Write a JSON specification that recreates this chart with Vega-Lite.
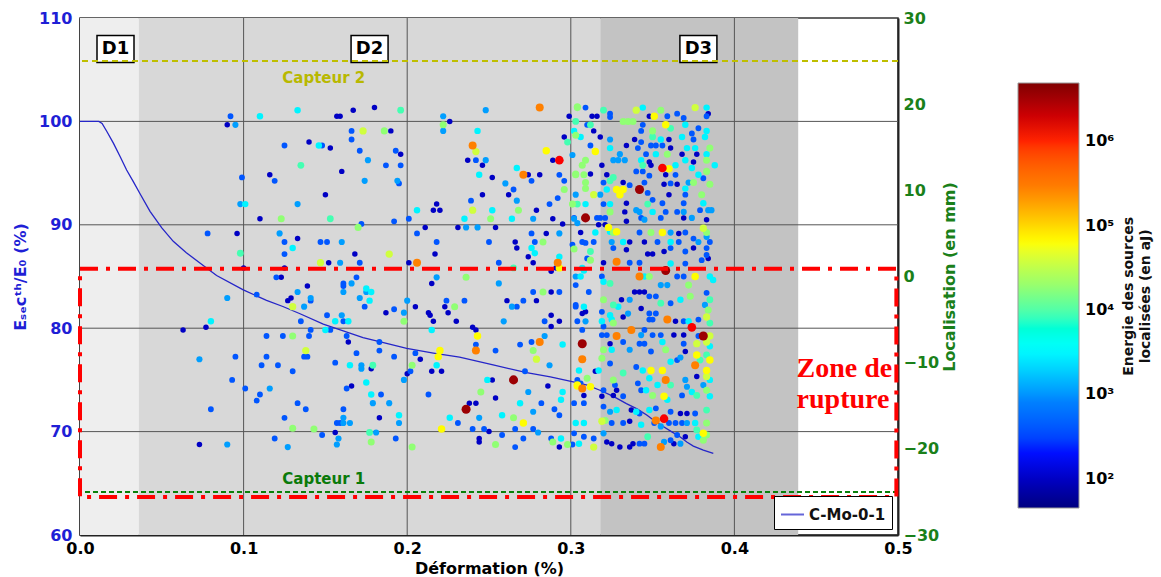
{
"$schema":"https://vega.github.io/schema/vega-lite/v6.json",
"width":818,"height":517,
"autosize":{"type":"none"},
"padding":{"left":80,"top":18,"right":263,"bottom":42},
"background":"white",
"config":{
 "font":"DejaVu Sans",
 "view":{"stroke":"#333333","strokeWidth":1.5},
 "axis":{"labelFont":"DejaVu Sans","labelFontWeight":"bold","labelFontSize":16,"titleFont":"DejaVu Sans","titleFontWeight":"bold","titleFontSize":16,"grid":false,"ticks":false,"domainColor":"#222222","domainWidth":2,"zindex":1,"labelFlush":false}
},
"datasets":{
 "zones":[{"d":0,"d2":0.036,"z":"D1"},{"d":0.036,"d2":0.318,"z":"D2"},{"d":0.318,"d2":0.439,"z":"D3"}],
 "gx":[{"d":0.1},{"d":0.2},{"d":0.3},{"d":0.4}],
 "gy":[{"E":70},{"E":80},{"E":90},{"E":100}],
 "mod":[{"d":0,"E":100},{"d":0.006,"E":100},{"d":0.0115,"E":100},{"d":0.0135,"E":99.8},{"d":0.0165,"E":99.0},{"d":0.0204,"E":97.9},{"d":0.0245,"E":96.6},{"d":0.0285,"E":95.3},{"d":0.0325,"E":94.2},{"d":0.0367,"E":93.0},{"d":0.0428,"E":91.3},{"d":0.05,"E":89.7},{"d":0.057,"E":88.4},{"d":0.065,"E":87.3},{"d":0.0733,"E":86.3},{"d":0.0835,"E":85.1},{"d":0.0998,"E":83.7},{"d":0.114,"E":82.7},{"d":0.124,"E":82.1},{"d":0.1345,"E":81.4},{"d":0.1487,"E":80.4},{"d":0.16,"E":79.8},{"d":0.173,"E":79.1},{"d":0.1855,"E":78.6},{"d":0.1997,"E":78.05},{"d":0.216,"E":77.6},{"d":0.232,"E":77.2},{"d":0.2525,"E":76.45},{"d":0.273,"E":75.7},{"d":0.2875,"E":75.3},{"d":0.3015,"E":74.8},{"d":0.31,"E":74.5},{"d":0.3178,"E":74.0},{"d":0.326,"E":73.4},{"d":0.334,"E":72.7},{"d":0.3405,"E":72.2},{"d":0.3464,"E":71.6},{"d":0.3515,"E":71.0},{"d":0.3565,"E":70.5},{"d":0.3615,"E":70.0},{"d":0.3667,"E":69.5},{"d":0.3709,"E":69.0},{"d":0.3749,"E":68.6},{"d":0.381,"E":68.2},{"d":0.3871,"E":67.9}],
 "dlab":[{"d":0.0217,"E":107.0,"t":"D1"},{"d":0.177,"E":107.0,"t":"D2"},{"d":0.378,"E":107.0,"t":"D3"}],
 "capt":[{"mm":25,"s":"2"},{"mm":-25,"s":"1"}],
 "capttxt":[{"d":0.149,"mm":23.0,"t":"Capteur 2","s":"2"},{"d":0.149,"mm":-23.5,"t":"Capteur 1","s":"1"}],
 "zone":[{"d":0,"d2":0.499,"mm":0.9,"mm2":-25.6}],
 "ztxt":[{"d":0.438,"mm":-11.66,"t":"Zone de"},{"d":0.438,"mm":-15.26,"t":"rupture"}],
 "cbt":[{"d":0.6415,"mm":-2.3,"t":"Energie des sources"},{"d":0.6513,"mm":-2.3,"t":"localisées (en aJ)"}],
 "pts":[
{"d":0.092,"mm":18.6,"e":400},{"d":0.090,"mm":17.6,"e":100},{"d":0.095,"mm":17.6,"e":1100},{"d":0.110,"mm":18.6,"e":3000},{"d":0.133,"mm":19.3,"e":3000},{"d":0.157,"mm":18.6,"e":100},{"d":0.159,"mm":18.6,"e":100},{"d":0.167,"mm":19.3,"e":100},{"d":0.166,"mm":16.9,"e":400},{"d":0.173,"mm":16.9,"e":38000},
{"d":0.125,"mm":15.2,"e":400},{"d":0.140,"mm":15.6,"e":100},{"d":0.146,"mm":15.2,"e":3000},{"d":0.148,"mm":15.2,"e":400},{"d":0.153,"mm":14.9,"e":100},{"d":0.166,"mm":15.9,"e":400},{"d":0.171,"mm":14.6,"e":400},{"d":0.176,"mm":13.5,"e":1100},{"d":0.135,"mm":12.9,"e":9000},{"d":0.160,"mm":12.2,"e":100},
{"d":0.099,"mm":11.5,"e":400},{"d":0.116,"mm":11.8,"e":100},{"d":0.119,"mm":11.1,"e":400},{"d":0.174,"mm":11.1,"e":1100},{"d":0.150,"mm":9.5,"e":100},{"d":0.098,"mm":8.4,"e":1100},{"d":0.101,"mm":8.4,"e":3000},{"d":0.133,"mm":8.4,"e":1100},{"d":0.110,"mm":6.7,"e":100},{"d":0.123,"mm":6.7,"e":18000},
{"d":0.153,"mm":6.7,"e":9000},{"d":0.172,"mm":6.1,"e":400},{"d":0.170,"mm":5.7,"e":18000},{"d":0.078,"mm":5.0,"e":400},{"d":0.096,"mm":5.0,"e":100},{"d":0.122,"mm":5.0,"e":1100},{"d":0.125,"mm":4.0,"e":400},{"d":0.133,"mm":4.4,"e":100},{"d":0.147,"mm":4.0,"e":400},{"d":0.151,"mm":4.0,"e":400},
{"d":0.160,"mm":4.0,"e":1100},{"d":0.130,"mm":3.3,"e":3000},{"d":0.125,"mm":2.6,"e":400},{"d":0.098,"mm":2.7,"e":9000},{"d":0.168,"mm":2.6,"e":100},{"d":0.147,"mm":1.6,"e":38000},{"d":0.152,"mm":1.6,"e":100},{"d":0.159,"mm":1.6,"e":1100},{"d":0.171,"mm":1.6,"e":400},{"d":0.100,"mm":1.0,"e":100},
{"d":0.125,"mm":1.0,"e":100},{"d":0.120,"mm":-0.1,"e":400},{"d":0.123,"mm":-0.1,"e":100},{"d":0.169,"mm":-0.1,"e":400},{"d":0.161,"mm":-0.8,"e":400},{"d":0.161,"mm":-1.1,"e":400},{"d":0.166,"mm":-0.8,"e":1100},{"d":0.139,"mm":-1.1,"e":100},{"d":0.133,"mm":-1.8,"e":1100},{"d":0.161,"mm":-1.8,"e":1100},
{"d":0.175,"mm":-1.8,"e":1100},{"d":0.090,"mm":-2.5,"e":1100},{"d":0.108,"mm":-2.1,"e":400},{"d":0.127,"mm":-2.8,"e":100},{"d":0.129,"mm":-2.5,"e":100},{"d":0.141,"mm":-2.5,"e":1100},{"d":0.141,"mm":-2.8,"e":400},{"d":0.171,"mm":-2.5,"e":1100},{"d":0.130,"mm":-3.5,"e":38000},{"d":0.137,"mm":-3.5,"e":1100},
{"d":0.174,"mm":-3.5,"e":400},{"d":0.080,"mm":-5.2,"e":3000},{"d":0.077,"mm":-5.9,"e":100},{"d":0.063,"mm":-6.2,"e":100},{"d":0.135,"mm":-5.2,"e":400},{"d":0.151,"mm":-4.5,"e":400},{"d":0.160,"mm":-4.5,"e":1100},{"d":0.156,"mm":-5.2,"e":3000},{"d":0.161,"mm":-5.2,"e":400},{"d":0.164,"mm":-5.2,"e":3000},
{"d":0.141,"mm":-6.2,"e":400},{"d":0.150,"mm":-6.2,"e":3000},{"d":0.153,"mm":-6.2,"e":400},{"d":0.114,"mm":-6.9,"e":400},{"d":0.124,"mm":-6.9,"e":400},{"d":0.130,"mm":-6.9,"e":18000},{"d":0.140,"mm":-6.9,"e":400},{"d":0.163,"mm":-6.9,"e":400},{"d":0.164,"mm":-7.6,"e":100},{"d":0.138,"mm":-8.6,"e":38000},
{"d":0.137,"mm":-9.3,"e":400},{"d":0.139,"mm":-9.3,"e":400},{"d":0.169,"mm":-8.9,"e":400},{"d":0.095,"mm":-9.3,"e":400},{"d":0.114,"mm":-9.3,"e":400},{"d":0.073,"mm":-9.6,"e":1100},{"d":0.156,"mm":-10.0,"e":400},{"d":0.165,"mm":-10.3,"e":3000},{"d":0.172,"mm":-10.3,"e":1100},{"d":0.172,"mm":-10.7,"e":1100},
{"d":0.111,"mm":-10.3,"e":400},{"d":0.121,"mm":-10.3,"e":400},{"d":0.130,"mm":-11.0,"e":400},{"d":0.093,"mm":-12.0,"e":400},{"d":0.175,"mm":-12.3,"e":3000},{"d":0.101,"mm":-13.0,"e":400},{"d":0.116,"mm":-13.0,"e":1100},{"d":0.163,"mm":-13.0,"e":400},{"d":0.166,"mm":-12.7,"e":100},{"d":0.110,"mm":-13.7,"e":400},
{"d":0.108,"mm":-14.4,"e":400},{"d":0.133,"mm":-14.7,"e":400},{"d":0.080,"mm":-15.4,"e":400},{"d":0.138,"mm":-15.4,"e":400},{"d":0.161,"mm":-15.4,"e":400},{"d":0.125,"mm":-16.4,"e":400},{"d":0.161,"mm":-16.4,"e":1100},{"d":0.161,"mm":-17.0,"e":1100},{"d":0.157,"mm":-17.0,"e":400},{"d":0.159,"mm":-17.0,"e":400},
{"d":0.165,"mm":-17.0,"e":1100},{"d":0.130,"mm":-17.6,"e":18000},{"d":0.143,"mm":-17.7,"e":18000},{"d":0.148,"mm":-18.4,"e":400},{"d":0.156,"mm":-18.1,"e":100},{"d":0.158,"mm":-18.8,"e":1100},{"d":0.119,"mm":-18.8,"e":400},{"d":0.073,"mm":-19.5,"e":100},{"d":0.090,"mm":-19.5,"e":1100},{"d":0.127,"mm":-19.8,"e":1100},
{"d":0.157,"mm":-19.5,"e":1100},
{"d":0.180,"mm":19.6,"e":100},{"d":0.196,"mm":19.3,"e":9000},{"d":0.248,"mm":19.3,"e":1100},{"d":0.281,"mm":19.6,"e":270000},{"d":0.304,"mm":19.6,"e":18000},{"d":0.222,"mm":18.6,"e":1100},{"d":0.226,"mm":18.0,"e":100},{"d":0.222,"mm":17.6,"e":18000},{"d":0.222,"mm":16.9,"e":1100},{"d":0.186,"mm":16.9,"e":18000},
{"d":0.190,"mm":16.9,"e":100},{"d":0.243,"mm":16.9,"e":3000},{"d":0.299,"mm":18.6,"e":100},{"d":0.302,"mm":16.9,"e":3000},{"d":0.296,"mm":16.2,"e":100},{"d":0.298,"mm":15.6,"e":9000},{"d":0.240,"mm":15.2,"e":270000},{"d":0.242,"mm":14.5,"e":38000},{"d":0.285,"mm":14.6,"e":65000},{"d":0.293,"mm":13.5,"e":1200000},
{"d":0.289,"mm":13.5,"e":100},{"d":0.193,"mm":14.6,"e":400},{"d":0.196,"mm":14.2,"e":100},{"d":0.237,"mm":13.5,"e":100},{"d":0.242,"mm":13.5,"e":400},{"d":0.248,"mm":13.5,"e":1100},{"d":0.246,"mm":12.9,"e":100},{"d":0.187,"mm":12.9,"e":400},{"d":0.196,"mm":12.9,"e":400},{"d":0.267,"mm":12.6,"e":3000},
{"d":0.271,"mm":11.8,"e":270000},{"d":0.274,"mm":11.8,"e":100},{"d":0.281,"mm":11.8,"e":100},{"d":0.293,"mm":11.8,"e":400},{"d":0.303,"mm":11.8,"e":18000},{"d":0.244,"mm":11.8,"e":3000},{"d":0.252,"mm":11.5,"e":100},{"d":0.194,"mm":11.1,"e":1100},{"d":0.195,"mm":10.8,"e":400},{"d":0.276,"mm":11.1,"e":400},
{"d":0.296,"mm":11.1,"e":400},{"d":0.260,"mm":10.8,"e":1100},{"d":0.296,"mm":10.1,"e":18000},{"d":0.265,"mm":10.1,"e":400},{"d":0.262,"mm":9.5,"e":100},{"d":0.246,"mm":9.5,"e":100},{"d":0.292,"mm":9.1,"e":400},{"d":0.267,"mm":8.8,"e":1100},{"d":0.239,"mm":8.8,"e":400},{"d":0.218,"mm":8.4,"e":100},
{"d":0.216,"mm":7.7,"e":100},{"d":0.220,"mm":7.7,"e":100},{"d":0.206,"mm":7.7,"e":3000},{"d":0.240,"mm":7.7,"e":38000},{"d":0.252,"mm":7.7,"e":3000},{"d":0.268,"mm":7.7,"e":18000},{"d":0.279,"mm":7.7,"e":100},{"d":0.287,"mm":8.4,"e":400},{"d":0.301,"mm":8.4,"e":18000},{"d":0.201,"mm":6.7,"e":400},
{"d":0.192,"mm":6.4,"e":400},{"d":0.235,"mm":6.7,"e":3000},{"d":0.251,"mm":6.7,"e":18000},{"d":0.264,"mm":6.7,"e":3000},{"d":0.277,"mm":6.7,"e":1100},{"d":0.289,"mm":6.7,"e":100},{"d":0.302,"mm":6.7,"e":1100},{"d":0.295,"mm":6.1,"e":100},{"d":0.211,"mm":5.7,"e":100},{"d":0.231,"mm":5.7,"e":100},
{"d":0.236,"mm":5.7,"e":1100},{"d":0.243,"mm":5.7,"e":1100},{"d":0.254,"mm":5.7,"e":100},{"d":0.206,"mm":5.0,"e":400},{"d":0.218,"mm":4.0,"e":400},{"d":0.250,"mm":4.0,"e":400},{"d":0.266,"mm":4.0,"e":100},{"d":0.267,"mm":3.3,"e":100},{"d":0.276,"mm":5.0,"e":400},{"d":0.285,"mm":5.0,"e":100},
{"d":0.293,"mm":5.0,"e":1100},{"d":0.278,"mm":4.0,"e":400},{"d":0.283,"mm":4.0,"e":18000},{"d":0.276,"mm":3.3,"e":3000},{"d":0.301,"mm":3.7,"e":400},{"d":0.278,"mm":2.7,"e":3000},{"d":0.274,"mm":2.3,"e":100},{"d":0.277,"mm":1.6,"e":100},{"d":0.189,"mm":2.6,"e":38000},{"d":0.217,"mm":2.6,"e":100},
{"d":0.201,"mm":1.6,"e":100},{"d":0.206,"mm":1.6,"e":270000},{"d":0.256,"mm":1.6,"e":400},{"d":0.293,"mm":2.3,"e":3000},{"d":0.292,"mm":1.6,"e":270000},{"d":0.293,"mm":1.0,"e":65000},{"d":0.288,"mm":0.6,"e":100},{"d":0.291,"mm":1.0,"e":100},{"d":0.265,"mm":1.0,"e":9000},{"d":0.236,"mm":-0.1,"e":18000},
{"d":0.218,"mm":-0.1,"e":1100},{"d":0.215,"mm":-0.8,"e":100},{"d":0.256,"mm":-0.8,"e":1100},{"d":0.175,"mm":-1.4,"e":3000},{"d":0.178,"mm":-1.8,"e":3000},{"d":0.177,"mm":-2.8,"e":3000},{"d":0.200,"mm":-2.8,"e":1100},{"d":0.224,"mm":-2.8,"e":400},{"d":0.235,"mm":-2.8,"e":400},{"d":0.229,"mm":-3.5,"e":18000},
{"d":0.223,"mm":-3.5,"e":100},{"d":0.205,"mm":-3.5,"e":100},{"d":0.187,"mm":-4.2,"e":100},{"d":0.192,"mm":-3.8,"e":400},{"d":0.198,"mm":-4.2,"e":1100},{"d":0.198,"mm":-5.2,"e":18000},{"d":0.213,"mm":-4.2,"e":100},{"d":0.214,"mm":-4.5,"e":100},{"d":0.225,"mm":-4.2,"e":100},{"d":0.216,"mm":-5.2,"e":100},
{"d":0.230,"mm":-5.2,"e":100},{"d":0.261,"mm":-2.8,"e":100},{"d":0.264,"mm":-3.5,"e":1100},{"d":0.267,"mm":-3.5,"e":400},{"d":0.271,"mm":-2.8,"e":400},{"d":0.277,"mm":-1.8,"e":400},{"d":0.283,"mm":-1.8,"e":18000},{"d":0.288,"mm":-1.8,"e":100},{"d":0.293,"mm":-1.8,"e":400},{"d":0.279,"mm":-2.8,"e":100},
{"d":0.288,"mm":-4.5,"e":100},{"d":0.259,"mm":-5.2,"e":1100},{"d":0.284,"mm":-5.2,"e":400},{"d":0.293,"mm":-5.2,"e":100},{"d":0.288,"mm":-5.8,"e":100},{"d":0.303,"mm":-3.5,"e":400},{"d":0.240,"mm":-5.9,"e":100},{"d":0.242,"mm":-6.2,"e":100},{"d":0.215,"mm":-6.2,"e":3000},{"d":0.243,"mm":-6.9,"e":65000},
{"d":0.242,"mm":-7.9,"e":400},{"d":0.242,"mm":-8.6,"e":270000},{"d":0.284,"mm":-6.9,"e":1100},{"d":0.281,"mm":-7.6,"e":270000},{"d":0.276,"mm":-7.6,"e":400},{"d":0.269,"mm":-7.9,"e":400},{"d":0.295,"mm":-7.9,"e":3000},{"d":0.277,"mm":-8.6,"e":18000},{"d":0.279,"mm":-9.6,"e":38000},{"d":0.254,"mm":-8.6,"e":400},
{"d":0.220,"mm":-8.6,"e":65000},{"d":0.219,"mm":-9.3,"e":65000},{"d":0.183,"mm":-7.6,"e":400},{"d":0.183,"mm":-8.6,"e":400},{"d":0.192,"mm":-9.3,"e":400},{"d":0.205,"mm":-8.9,"e":400},{"d":0.208,"mm":-9.6,"e":100},{"d":0.179,"mm":-10.3,"e":9000},{"d":0.203,"mm":-10.3,"e":18000},{"d":0.202,"mm":-11.0,"e":400},
{"d":0.200,"mm":-11.3,"e":100},{"d":0.198,"mm":-12.0,"e":1100},{"d":0.178,"mm":-10.7,"e":100},{"d":0.218,"mm":-10.3,"e":3000},{"d":0.215,"mm":-11.0,"e":100},{"d":0.221,"mm":-11.0,"e":100},{"d":0.287,"mm":-10.3,"e":1100},{"d":0.249,"mm":-12.0,"e":3000},{"d":0.252,"mm":-12.0,"e":100},{"d":0.265,"mm":-12.0,"e":3500000},
{"d":0.272,"mm":-11.0,"e":400},{"d":0.286,"mm":-12.7,"e":100},{"d":0.304,"mm":-12.7,"e":65000},{"d":0.245,"mm":-13.4,"e":18000},{"d":0.274,"mm":-13.4,"e":1100},{"d":0.295,"mm":-13.4,"e":3000},{"d":0.178,"mm":-13.7,"e":3000},{"d":0.184,"mm":-13.7,"e":400},{"d":0.213,"mm":-13.7,"e":400},{"d":0.254,"mm":-14.1,"e":100},
{"d":0.189,"mm":-14.7,"e":1100},{"d":0.179,"mm":-14.7,"e":1100},{"d":0.238,"mm":-14.7,"e":100},{"d":0.242,"mm":-14.7,"e":100},{"d":0.236,"mm":-15.4,"e":3500000},{"d":0.269,"mm":-14.7,"e":3000},{"d":0.282,"mm":-14.7,"e":400},{"d":0.290,"mm":-15.4,"e":400},{"d":0.294,"mm":-14.3,"e":3000},{"d":0.277,"mm":-15.7,"e":1100},
{"d":0.195,"mm":-16.1,"e":3000},{"d":0.195,"mm":-17.0,"e":1100},{"d":0.183,"mm":-16.4,"e":100},{"d":0.226,"mm":-16.4,"e":3000},{"d":0.244,"mm":-16.4,"e":1100},{"d":0.258,"mm":-16.1,"e":3000},{"d":0.265,"mm":-16.4,"e":18000},{"d":0.293,"mm":-16.1,"e":400},{"d":0.231,"mm":-17.0,"e":400},{"d":0.221,"mm":-17.7,"e":65000},
{"d":0.240,"mm":-17.7,"e":400},{"d":0.247,"mm":-17.7,"e":400},{"d":0.250,"mm":-18.0,"e":100},{"d":0.271,"mm":-17.0,"e":65000},{"d":0.277,"mm":-17.7,"e":400},{"d":0.280,"mm":-18.1,"e":1100},{"d":0.266,"mm":-17.7,"e":400},{"d":0.177,"mm":-18.1,"e":9000},{"d":0.181,"mm":-18.1,"e":1100},{"d":0.178,"mm":-19.2,"e":18000},
{"d":0.193,"mm":-18.8,"e":400},{"d":0.203,"mm":-19.8,"e":18000},{"d":0.244,"mm":-18.8,"e":100},{"d":0.244,"mm":-19.2,"e":100},{"d":0.258,"mm":-18.4,"e":400},{"d":0.254,"mm":-19.5,"e":18000},{"d":0.266,"mm":-19.8,"e":400},{"d":0.271,"mm":-18.8,"e":400},{"d":0.288,"mm":-18.8,"e":400},{"d":0.294,"mm":-18.8,"e":3000},
{"d":0.298,"mm":-19.5,"e":18000},{"d":0.293,"mm":-19.8,"e":100},{"d":0.301,"mm":-19.5,"e":400},{"d":0.289,"mm":-19.2,"e":18000},
{"d":0.304,"mm":19.7,"e":18000},{"d":0.309,"mm":19.6,"e":400},{"d":0.313,"mm":18.6,"e":100},{"d":0.316,"mm":18.6,"e":100},{"d":0.320,"mm":19.3,"e":9000},{"d":0.324,"mm":18.9,"e":400},{"d":0.324,"mm":18.5,"e":400},{"d":0.340,"mm":19.3,"e":38000},{"d":0.344,"mm":19.6,"e":3000},{"d":0.348,"mm":18.6,"e":100},
{"d":0.351,"mm":18.6,"e":65000},{"d":0.355,"mm":19.3,"e":18000},{"d":0.359,"mm":18.6,"e":400},{"d":0.365,"mm":18.9,"e":400},{"d":0.369,"mm":18.4,"e":400},{"d":0.376,"mm":19.6,"e":38000},{"d":0.383,"mm":19.6,"e":3000},{"d":0.384,"mm":18.9,"e":100},{"d":0.383,"mm":18.6,"e":400},{"d":0.303,"mm":18.0,"e":9000},
{"d":0.310,"mm":17.6,"e":400},{"d":0.312,"mm":17.6,"e":9000},{"d":0.314,"mm":16.9,"e":100},{"d":0.332,"mm":18.0,"e":18000},{"d":0.335,"mm":18.0,"e":18000},{"d":0.338,"mm":18.0,"e":18000},{"d":0.344,"mm":17.6,"e":400},{"d":0.358,"mm":17.6,"e":65000},{"d":0.361,"mm":17.2,"e":9000},{"d":0.350,"mm":16.9,"e":18000},
{"d":0.343,"mm":16.9,"e":400},{"d":0.370,"mm":17.6,"e":3000},{"d":0.378,"mm":17.2,"e":400},{"d":0.303,"mm":16.4,"e":18000},{"d":0.306,"mm":16.2,"e":3000},{"d":0.318,"mm":16.2,"e":100},{"d":0.324,"mm":15.9,"e":1100},{"d":0.339,"mm":15.9,"e":100},{"d":0.343,"mm":15.6,"e":400},{"d":0.350,"mm":16.2,"e":9000},
{"d":0.355,"mm":15.9,"e":3000},{"d":0.360,"mm":15.9,"e":100},{"d":0.368,"mm":16.2,"e":3000},{"d":0.374,"mm":16.6,"e":400},{"d":0.375,"mm":15.9,"e":400},{"d":0.383,"mm":16.9,"e":3000},{"d":0.382,"mm":16.2,"e":3000},{"d":0.312,"mm":15.2,"e":400},{"d":0.324,"mm":14.9,"e":3000},{"d":0.334,"mm":15.2,"e":100},
{"d":0.341,"mm":14.9,"e":400},{"d":0.349,"mm":15.2,"e":400},{"d":0.352,"mm":15.2,"e":400},{"d":0.356,"mm":15.2,"e":400},{"d":0.361,"mm":14.9,"e":100},{"d":0.371,"mm":14.9,"e":3000},{"d":0.376,"mm":14.9,"e":3000},{"d":0.385,"mm":14.9,"e":18000},{"d":0.315,"mm":14.5,"e":65000},{"d":0.330,"mm":14.2,"e":1100},
{"d":0.346,"mm":14.2,"e":400},{"d":0.352,"mm":14.2,"e":3000},{"d":0.359,"mm":14.2,"e":18000},{"d":0.368,"mm":14.2,"e":100},{"d":0.377,"mm":14.2,"e":100},{"d":0.383,"mm":14.2,"e":3000},{"d":0.301,"mm":14.1,"e":1100},{"d":0.309,"mm":13.5,"e":18000},{"d":0.307,"mm":12.9,"e":18000},{"d":0.319,"mm":12.9,"e":100},
{"d":0.326,"mm":13.5,"e":1100},{"d":0.329,"mm":13.5,"e":1100},{"d":0.333,"mm":13.5,"e":1100},{"d":0.343,"mm":13.5,"e":3000},{"d":0.348,"mm":13.3,"e":100},{"d":0.356,"mm":12.6,"e":1200000},{"d":0.360,"mm":12.5,"e":65000},{"d":0.364,"mm":12.9,"e":3000},{"d":0.370,"mm":13.5,"e":3000},{"d":0.375,"mm":13.3,"e":100},
{"d":0.383,"mm":13.5,"e":18000},{"d":0.388,"mm":12.9,"e":3000},{"d":0.344,"mm":12.9,"e":9000},{"d":0.349,"mm":12.9,"e":100},{"d":0.303,"mm":11.9,"e":18000},{"d":0.312,"mm":11.9,"e":100},{"d":0.308,"mm":11.8,"e":18000},{"d":0.322,"mm":11.8,"e":100},{"d":0.326,"mm":11.5,"e":9000},{"d":0.340,"mm":12.2,"e":400},
{"d":0.344,"mm":12.2,"e":400},{"d":0.348,"mm":11.7,"e":400},{"d":0.358,"mm":11.8,"e":100},{"d":0.364,"mm":11.8,"e":400},{"d":0.374,"mm":12.6,"e":3000},{"d":0.378,"mm":11.8,"e":3000},{"d":0.383,"mm":12.2,"e":18000},{"d":0.381,"mm":11.4,"e":400},{"d":0.372,"mm":10.9,"e":1100},{"d":0.370,"mm":10.2,"e":3000},
{"d":0.375,"mm":10.9,"e":18000},{"d":0.309,"mm":10.9,"e":18000},{"d":0.320,"mm":10.9,"e":400},{"d":0.324,"mm":11.1,"e":9000},{"d":0.332,"mm":10.9,"e":100},{"d":0.336,"mm":10.6,"e":400},{"d":0.345,"mm":10.9,"e":400},{"d":0.357,"mm":10.7,"e":100},{"d":0.361,"mm":10.8,"e":400},{"d":0.365,"mm":10.7,"e":100},
{"d":0.385,"mm":10.7,"e":18000},{"d":0.328,"mm":10.1,"e":65000},{"d":0.332,"mm":10.1,"e":65000},{"d":0.330,"mm":9.5,"e":65000},{"d":0.309,"mm":10.2,"e":18000},{"d":0.314,"mm":9.5,"e":38000},{"d":0.303,"mm":9.5,"e":1100},{"d":0.322,"mm":10.1,"e":3000},{"d":0.318,"mm":9.5,"e":1100},{"d":0.342,"mm":10.1,"e":3500000},
{"d":0.347,"mm":9.7,"e":400},{"d":0.350,"mm":8.9,"e":400},{"d":0.360,"mm":9.5,"e":100},{"d":0.380,"mm":9.5,"e":18000},{"d":0.381,"mm":8.5,"e":3000},{"d":0.370,"mm":9.5,"e":400},{"d":0.324,"mm":8.4,"e":3000},{"d":0.320,"mm":8.4,"e":400},{"d":0.304,"mm":8.4,"e":9000},{"d":0.309,"mm":8.4,"e":3000},
{"d":0.334,"mm":8.5,"e":100},{"d":0.347,"mm":8.4,"e":9000},{"d":0.356,"mm":8.5,"e":400},{"d":0.369,"mm":8.5,"e":400},{"d":0.340,"mm":7.7,"e":1100},{"d":0.342,"mm":7.5,"e":1100},{"d":0.324,"mm":7.5,"e":18000},{"d":0.333,"mm":7.5,"e":100},{"d":0.350,"mm":7.5,"e":3000},{"d":0.358,"mm":7.5,"e":400},
{"d":0.365,"mm":7.5,"e":400},{"d":0.369,"mm":7.5,"e":1100},{"d":0.379,"mm":7.7,"e":400},{"d":0.384,"mm":7.7,"e":1100},{"d":0.386,"mm":7.7,"e":1100},{"d":0.302,"mm":6.8,"e":400},{"d":0.309,"mm":6.8,"e":3500000},{"d":0.316,"mm":6.8,"e":400},{"d":0.318,"mm":6.8,"e":400},{"d":0.321,"mm":6.8,"e":400},
{"d":0.334,"mm":6.4,"e":100},{"d":0.343,"mm":6.8,"e":400},{"d":0.345,"mm":6.6,"e":1100},{"d":0.355,"mm":6.8,"e":400},{"d":0.369,"mm":6.8,"e":100},{"d":0.374,"mm":6.8,"e":1100},{"d":0.383,"mm":6.6,"e":100},{"d":0.304,"mm":6.2,"e":1100},{"d":0.317,"mm":6.0,"e":100},{"d":0.321,"mm":6.0,"e":100},
{"d":0.323,"mm":5.7,"e":65000},{"d":0.328,"mm":5.2,"e":65000},{"d":0.324,"mm":5.2,"e":3000},{"d":0.326,"mm":5.1,"e":18000},{"d":0.306,"mm":5.1,"e":100},{"d":0.315,"mm":5.1,"e":3000},{"d":0.342,"mm":5.1,"e":400},{"d":0.349,"mm":5.1,"e":18000},{"d":0.356,"mm":5.1,"e":65000},{"d":0.361,"mm":5.1,"e":1100},
{"d":0.366,"mm":5.0,"e":100},{"d":0.370,"mm":5.1,"e":400},{"d":0.381,"mm":5.6,"e":38000},{"d":0.383,"mm":5.1,"e":18000},{"d":0.307,"mm":4.0,"e":400},{"d":0.309,"mm":3.9,"e":400},{"d":0.314,"mm":4.0,"e":400},{"d":0.325,"mm":4.0,"e":1100},{"d":0.332,"mm":4.0,"e":3000},{"d":0.336,"mm":4.0,"e":100},
{"d":0.345,"mm":4.0,"e":100},{"d":0.353,"mm":4.0,"e":400},{"d":0.361,"mm":4.0,"e":3000},{"d":0.366,"mm":4.0,"e":400},{"d":0.375,"mm":4.4,"e":400},{"d":0.378,"mm":4.0,"e":1100},{"d":0.383,"mm":4.6,"e":1100},{"d":0.385,"mm":4.0,"e":400},{"d":0.302,"mm":3.2,"e":18000},{"d":0.312,"mm":2.9,"e":9000},
{"d":0.326,"mm":3.3,"e":400},{"d":0.334,"mm":3.1,"e":100},{"d":0.347,"mm":2.6,"e":100},{"d":0.350,"mm":2.6,"e":100},{"d":0.357,"mm":2.9,"e":100},{"d":0.361,"mm":3.3,"e":400},{"d":0.370,"mm":2.9,"e":400},{"d":0.375,"mm":3.3,"e":100},{"d":0.383,"mm":3.3,"e":400},{"d":0.383,"mm":2.5,"e":400},
{"d":0.310,"mm":2.1,"e":400},{"d":0.312,"mm":1.9,"e":18000},{"d":0.328,"mm":1.7,"e":270000},{"d":0.320,"mm":1.6,"e":100},{"d":0.336,"mm":1.6,"e":400},{"d":0.342,"mm":1.6,"e":400},{"d":0.361,"mm":1.5,"e":3000},{"d":0.370,"mm":1.5,"e":400},{"d":0.380,"mm":1.9,"e":400},{"d":0.384,"mm":2.1,"e":100},
{"d":0.307,"mm":1.0,"e":3000},{"d":0.308,"mm":0.7,"e":3000},{"d":0.358,"mm":0.7,"e":3500000},
{"d":0.303,"mm":0.0,"e":1100},{"d":0.306,"mm":0.0,"e":3000},{"d":0.319,"mm":0.0,"e":400},{"d":0.320,"mm":-0.6,"e":3000},{"d":0.324,"mm":-0.8,"e":9000},{"d":0.342,"mm":0.0,"e":270000},{"d":0.345,"mm":0.0,"e":3000},{"d":0.348,"mm":0.0,"e":18000},{"d":0.355,"mm":-1.0,"e":1100},{"d":0.359,"mm":-1.0,"e":1100},
{"d":0.365,"mm":0.0,"e":400},{"d":0.369,"mm":0.0,"e":400},{"d":0.372,"mm":-1.0,"e":18000},{"d":0.376,"mm":0.0,"e":65000},{"d":0.385,"mm":0.0,"e":3000},{"d":0.387,"mm":-0.4,"e":3000},{"d":0.303,"mm":-1.0,"e":400},{"d":0.311,"mm":-1.8,"e":400},{"d":0.320,"mm":-2.7,"e":18000},{"d":0.339,"mm":-1.8,"e":100},
{"d":0.342,"mm":-1.8,"e":100},{"d":0.345,"mm":-1.8,"e":100},{"d":0.336,"mm":-2.7,"e":1100},{"d":0.348,"mm":-2.3,"e":400},{"d":0.352,"mm":-2.3,"e":400},{"d":0.355,"mm":-3.1,"e":9000},{"d":0.361,"mm":-3.1,"e":400},{"d":0.367,"mm":-2.7,"e":3000},{"d":0.373,"mm":-2.3,"e":18000},{"d":0.383,"mm":-1.9,"e":400},
{"d":0.385,"mm":-2.7,"e":9000},{"d":0.303,"mm":-3.3,"e":400},{"d":0.308,"mm":-3.5,"e":3000},{"d":0.326,"mm":-3.3,"e":9000},{"d":0.329,"mm":-3.5,"e":3000},{"d":0.331,"mm":-2.7,"e":100},{"d":0.343,"mm":-3.7,"e":100},{"d":0.348,"mm":-4.3,"e":400},{"d":0.352,"mm":-4.3,"e":400},{"d":0.382,"mm":-3.3,"e":1100},
{"d":0.384,"mm":-3.9,"e":18000},{"d":0.307,"mm":-4.3,"e":100},{"d":0.309,"mm":-4.1,"e":100},{"d":0.319,"mm":-4.1,"e":400},{"d":0.324,"mm":-4.5,"e":3000},{"d":0.332,"mm":-4.7,"e":100},{"d":0.335,"mm":-4.3,"e":1100},{"d":0.359,"mm":-5.0,"e":270000},{"d":0.364,"mm":-5.2,"e":100},{"d":0.369,"mm":-5.2,"e":400},
{"d":0.372,"mm":-5.2,"e":3000},{"d":0.378,"mm":-5.0,"e":400},{"d":0.383,"mm":-4.7,"e":38000},{"d":0.385,"mm":-5.4,"e":9000},{"d":0.304,"mm":-5.2,"e":400},{"d":0.309,"mm":-5.2,"e":1100},{"d":0.319,"mm":-5.2,"e":3000},{"d":0.320,"mm":-5.8,"e":400},{"d":0.325,"mm":-5.0,"e":3000},{"d":0.326,"mm":-5.4,"e":18000},
{"d":0.348,"mm":-5.0,"e":400},{"d":0.350,"mm":-5.0,"e":400},{"d":0.307,"mm":-6.2,"e":400},{"d":0.337,"mm":-6.2,"e":270000},{"d":0.374,"mm":-5.9,"e":1200000},{"d":0.381,"mm":-6.9,"e":3500000},{"d":0.328,"mm":-6.9,"e":270000},{"d":0.319,"mm":-6.8,"e":400},{"d":0.322,"mm":-6.8,"e":400},{"d":0.345,"mm":-6.2,"e":400},
{"d":0.343,"mm":-6.8,"e":1100},{"d":0.350,"mm":-6.8,"e":400},{"d":0.355,"mm":-6.8,"e":400},{"d":0.363,"mm":-6.8,"e":100},{"d":0.369,"mm":-6.8,"e":100},{"d":0.378,"mm":-6.9,"e":400},{"d":0.385,"mm":-6.9,"e":38000},{"d":0.307,"mm":-7.8,"e":3500000},{"d":0.324,"mm":-7.8,"e":100},{"d":0.325,"mm":-8.5,"e":3000},
{"d":0.332,"mm":-7.6,"e":400},{"d":0.342,"mm":-7.8,"e":400},{"d":0.345,"mm":-7.8,"e":400},{"d":0.356,"mm":-7.6,"e":3000},{"d":0.369,"mm":-7.8,"e":400},{"d":0.377,"mm":-7.8,"e":38000},{"d":0.383,"mm":-7.6,"e":38000},{"d":0.385,"mm":-8.1,"e":3000},{"d":0.307,"mm":-9.6,"e":270000},{"d":0.320,"mm":-8.5,"e":18000},
{"d":0.336,"mm":-8.5,"e":1100},{"d":0.349,"mm":-8.7,"e":400},{"d":0.358,"mm":-8.5,"e":18000},{"d":0.367,"mm":-9.4,"e":1100},{"d":0.370,"mm":-8.7,"e":100},{"d":0.377,"mm":-9.1,"e":65000},{"d":0.379,"mm":-9.7,"e":9000},{"d":0.383,"mm":-9.1,"e":9000},{"d":0.385,"mm":-9.7,"e":65000},{"d":0.305,"mm":-10.9,"e":3000},
{"d":0.319,"mm":-9.5,"e":18000},{"d":0.324,"mm":-10.1,"e":400},{"d":0.340,"mm":-10.5,"e":400},{"d":0.349,"mm":-10.9,"e":65000},{"d":0.356,"mm":-10.9,"e":65000},{"d":0.361,"mm":-9.9,"e":3000},{"d":0.365,"mm":-9.7,"e":400},{"d":0.376,"mm":-10.3,"e":270000},{"d":0.383,"mm":-10.9,"e":65000},{"d":0.315,"mm":-11.0,"e":100},
{"d":0.317,"mm":-10.9,"e":3000},{"d":0.332,"mm":-11.2,"e":9000},{"d":0.344,"mm":-10.9,"e":3000},{"d":0.358,"mm":-12.0,"e":270000},{"d":0.370,"mm":-12.0,"e":1100},{"d":0.377,"mm":-11.6,"e":100},{"d":0.383,"mm":-11.6,"e":38000},{"d":0.304,"mm":-12.0,"e":400},{"d":0.306,"mm":-12.4,"e":400},{"d":0.310,"mm":-11.8,"e":18000},
{"d":0.326,"mm":-12.0,"e":18000},{"d":0.348,"mm":-11.8,"e":3000},{"d":0.353,"mm":-12.6,"e":3000},{"d":0.361,"mm":-12.6,"e":9000},{"d":0.385,"mm":-12.0,"e":3000},{"d":0.304,"mm":-12.6,"e":65000},{"d":0.307,"mm":-13.0,"e":270000},{"d":0.312,"mm":-12.8,"e":65000},{"d":0.320,"mm":-13.2,"e":400},{"d":0.327,"mm":-12.6,"e":400},
{"d":0.328,"mm":-13.2,"e":100},{"d":0.341,"mm":-12.4,"e":400},{"d":0.343,"mm":-13.2,"e":400},{"d":0.346,"mm":-13.2,"e":3000},{"d":0.371,"mm":-12.8,"e":1100},{"d":0.374,"mm":-13.4,"e":3000},{"d":0.381,"mm":-12.6,"e":1100},{"d":0.383,"mm":-13.2,"e":18000},{"d":0.308,"mm":-13.8,"e":100},{"d":0.302,"mm":-14.7,"e":400},
{"d":0.319,"mm":-13.9,"e":100},{"d":0.326,"mm":-13.8,"e":100},{"d":0.332,"mm":-13.9,"e":400},{"d":0.350,"mm":-13.8,"e":18000},{"d":0.357,"mm":-13.9,"e":65000},{"d":0.359,"mm":-14.3,"e":3000},{"d":0.368,"mm":-13.8,"e":400},{"d":0.377,"mm":-13.8,"e":9000},{"d":0.385,"mm":-13.9,"e":3000},{"d":0.308,"mm":-14.7,"e":400},
{"d":0.320,"mm":-15.1,"e":400},{"d":0.328,"mm":-15.5,"e":3000},{"d":0.324,"mm":-15.7,"e":1100},{"d":0.337,"mm":-15.5,"e":100},{"d":0.340,"mm":-15.7,"e":3000},{"d":0.348,"mm":-15.5,"e":3000},{"d":0.352,"mm":-15.3,"e":400},{"d":0.357,"mm":-16.5,"e":1200000},{"d":0.352,"mm":-16.7,"e":270000},{"d":0.342,"mm":-15.9,"e":400},
{"d":0.361,"mm":-15.7,"e":400},{"d":0.367,"mm":-15.9,"e":100},{"d":0.371,"mm":-15.9,"e":100},{"d":0.376,"mm":-15.9,"e":400},{"d":0.383,"mm":-15.5,"e":9000},{"d":0.303,"mm":-17.0,"e":3000},{"d":0.308,"mm":-17.0,"e":3000},{"d":0.319,"mm":-16.8,"e":38000},{"d":0.321,"mm":-16.7,"e":18000},{"d":0.325,"mm":-17.0,"e":400},
{"d":0.332,"mm":-17.0,"e":400},{"d":0.336,"mm":-16.8,"e":100},{"d":0.343,"mm":-17.2,"e":3000},{"d":0.351,"mm":-17.0,"e":400},{"d":0.355,"mm":-17.4,"e":1100},{"d":0.360,"mm":-17.0,"e":400},{"d":0.364,"mm":-17.0,"e":400},{"d":0.368,"mm":-17.0,"e":400},{"d":0.371,"mm":-17.0,"e":1100},{"d":0.376,"mm":-17.0,"e":3000},
{"d":0.377,"mm":-17.8,"e":9000},{"d":0.381,"mm":-18.2,"e":65000},{"d":0.383,"mm":-17.0,"e":18000},{"d":0.302,"mm":-18.2,"e":400},{"d":0.308,"mm":-18.6,"e":400},{"d":0.314,"mm":-18.8,"e":400},{"d":0.320,"mm":-18.2,"e":1100},{"d":0.322,"mm":-19.2,"e":100},{"d":0.325,"mm":-19.4,"e":100},{"d":0.330,"mm":-19.8,"e":100},
{"d":0.336,"mm":-19.8,"e":100},{"d":0.338,"mm":-19.4,"e":100},{"d":0.342,"mm":-19.4,"e":400},{"d":0.345,"mm":-19.4,"e":400},{"d":0.347,"mm":-18.6,"e":9000},{"d":0.355,"mm":-19.8,"e":270000},{"d":0.357,"mm":-19.2,"e":1100},{"d":0.361,"mm":-19.0,"e":400},{"d":0.365,"mm":-18.4,"e":400},{"d":0.370,"mm":-18.6,"e":100},
{"d":0.363,"mm":-19.4,"e":100},{"d":0.367,"mm":-19.4,"e":1100},{"d":0.378,"mm":-18.6,"e":3000},{"d":0.381,"mm":-19.0,"e":18000},{"d":0.383,"mm":-18.4,"e":18000},{"d":0.305,"mm":-19.4,"e":3000},{"d":0.314,"mm":-19.8,"e":38000}
 ]
},
"layer":[
 {"layer":[
  {"data":{"name":"zones"},"mark":{"type":"rect"},
   "encoding":{
    "x":{"field":"d","type":"quantitative","scale":{"domain":[0,0.5],"nice":false},"axis":{"title":"Déformation (%)","values":[0,0.1,0.2,0.3,0.4,0.5],"format":".1f","labelColor":"#000000","titleColor":"#000000","labelPadding":5,"titlePadding":4}},
    "x2":{"field":"d2"},
    "fill":{"field":"z","type":"nominal","scale":{"domain":["D1","D2","D3"],"range":["#eeeeee","#d8d8d8","#c3c3c3"]},"legend":null}}},
  {"data":{"name":"gx"},"mark":{"type":"rule","color":"#555555","strokeWidth":1},
   "encoding":{"x":{"field":"d","type":"quantitative","scale":{"domain":[0,0.5],"nice":false}}}},
  {"data":{"name":"gy"},"mark":{"type":"rule","color":"#555555","strokeWidth":1},
   "encoding":{"y":{"field":"E","type":"quantitative","scale":{"domain":[60,110],"nice":false},"axis":{"orient":"left","title":"Eₛₑcᵗʰ/E₀ (%)","values":[60,70,80,90,100,110],"labelColor":"#1f1fd6","titleColor":"#1f1fd6","labelPadding":8,"titlePadding":10}}}},
  {"data":{"name":"mod"},"mark":{"type":"line","strokeWidth":1.3},
   "encoding":{
    "x":{"field":"d","type":"quantitative","scale":{"domain":[0,0.5],"nice":false}},
    "y":{"field":"E","type":"quantitative","scale":{"domain":[60,110],"nice":false}},
    "stroke":{"datum":"C-Mo-0-1","type":"nominal","scale":{"range":["#2525c8"]},"legend":{"orient":"bottom-right","offset":6,"title":null,"fillColor":"white","strokeColor":"#000000","padding":6,"symbolType":"stroke","symbolSize":529,"symbolStrokeWidth":2,"symbolOpacity":0.7,"labelFont":"DejaVu Sans","labelFontWeight":"bold","labelFontSize":15,"labelColor":"#111111","cornerRadius":0}}}},
  {"data":{"name":"dlab"},"mark":{"type":"point","shape":"M-1,-0.73H1V0.73H-1Z","size":1369,"filled":true,"fill":"white","stroke":"black","strokeWidth":1.5,"opacity":1},
   "encoding":{
    "x":{"field":"d","type":"quantitative","scale":{"domain":[0,0.5],"nice":false}},
    "y":{"field":"E","type":"quantitative","scale":{"domain":[60,110],"nice":false}}}},
  {"data":{"name":"dlab"},"mark":{"type":"text","font":"DejaVu Sans","fontWeight":"bold","fontSize":18,"color":"black","baseline":"middle","align":"center"},
   "encoding":{
    "x":{"field":"d","type":"quantitative","scale":{"domain":[0,0.5],"nice":false}},
    "y":{"field":"E","type":"quantitative","scale":{"domain":[60,110],"nice":false}},
    "text":{"field":"t"}}}
 ]},
 {"layer":[
  {"data":{"name":"pts"},"mark":{"type":"point","filled":true,"opacity":1,"shape":"circle"},
   "encoding":{
    "x":{"field":"d","type":"quantitative","scale":{"domain":[0,0.5],"nice":false}},
    "y":{"field":"mm","type":"quantitative","scale":{"domain":[-30,30],"nice":false},"axis":{"orient":"right","title":"Localisation (en mm)","values":[-30,-20,-10,0,10,20,30],"labelColor":"#1a801a","titleColor":"#1a801a","labelPadding":5,"titleAngle":270,"titlePadding":19}},
    "color":{"field":"e","type":"quantitative",
      "scale":{"type":"log","domain":[45,191.8,817.5,3484,14851,63300,269800,1150000,4900000],"range":["#000080","#0000ff","#0080ff","#00ffff","#80ff80","#ffff00","#ff8000","#ff0000","#800000"]},
      "legend":{"orient":"none","legendX":938,"legendY":65,"direction":"vertical","gradientLength":425,"gradientThickness":61,"gradientStrokeColor":"#999999","gradientStrokeWidth":1,"values":[100,1000,10000,100000,1000000],"labelExpr":"datum.value < 500 ? '10²' : datum.value < 5000 ? '10³' : datum.value < 50000 ? '10⁴' : datum.value < 500000 ? '10⁵' : '10⁶'","labelFont":"DejaVu Sans","labelFontWeight":"bold","labelFontSize":16,"labelColor":"#000000","labelOffset":6,"title":null,"padding":0}},
    "size":{"field":"e","type":"quantitative","scale":{"type":"pow","exponent":0.1,"domain":[45,4900000],"range":[28,85],"zero":false},"legend":null},
    "order":{"field":"e","type":"quantitative"}}},
  {"data":{"name":"capt"},"transform":[{"filter":"datum.s === '2'"}],"mark":{"type":"rule","color":"#bfbf00","strokeWidth":2,"strokeDash":[6,4]},
   "encoding":{"y":{"field":"mm","type":"quantitative","scale":{"domain":[-30,30],"nice":false}}}},
  {"data":{"name":"capt"},"transform":[{"filter":"datum.s === '1'"}],"mark":{"type":"rule","color":"#0a800a","strokeWidth":2,"strokeDash":[5,3]},
   "encoding":{"y":{"field":"mm","type":"quantitative","scale":{"domain":[-30,30],"nice":false}}}},
  {"data":{"name":"capttxt"},"transform":[{"filter":"datum.s === '2'"}],"mark":{"type":"text","font":"DejaVu Sans","fontWeight":"bold","fontSize":15,"color":"#b8b800","align":"center","baseline":"middle"},
   "encoding":{
    "x":{"field":"d","type":"quantitative","scale":{"domain":[0,0.5],"nice":false}},
    "y":{"field":"mm","type":"quantitative","scale":{"domain":[-30,30],"nice":false}},
    "text":{"field":"t"}}},
  {"data":{"name":"capttxt"},"transform":[{"filter":"datum.s === '1'"}],"mark":{"type":"text","font":"DejaVu Sans","fontWeight":"bold","fontSize":15,"color":"#0a7a0a","align":"center","baseline":"middle"},
   "encoding":{
    "x":{"field":"d","type":"quantitative","scale":{"domain":[0,0.5],"nice":false}},
    "y":{"field":"mm","type":"quantitative","scale":{"domain":[-30,30],"nice":false}},
    "text":{"field":"t"}}},
  {"data":{"name":"zone"},"mark":{"type":"rect","filled":false,"stroke":"#ff0000","strokeWidth":4,"strokeDash":[18,8,4,8]},
   "encoding":{
    "x":{"field":"d","type":"quantitative","scale":{"domain":[0,0.5],"nice":false}},
    "x2":{"field":"d2"},
    "y":{"field":"mm","type":"quantitative","scale":{"domain":[-30,30],"nice":false}},
    "y2":{"field":"mm2"}}},
  {"data":{"name":"ztxt"},"mark":{"type":"text","font":"Liberation Serif","fontWeight":"bold","fontSize":28,"color":"#ff0000","align":"left","baseline":"alphabetic"},
   "encoding":{
    "x":{"field":"d","type":"quantitative","scale":{"domain":[0,0.5],"nice":false}},
    "y":{"field":"mm","type":"quantitative","scale":{"domain":[-30,30],"nice":false}},
    "text":{"field":"t"}}},
  {"data":{"name":"cbt"},"mark":{"type":"text","font":"DejaVu Sans","fontWeight":"bold","fontSize":14,"color":"#111111","align":"center","baseline":"middle","angle":270},
   "encoding":{
    "x":{"field":"d","type":"quantitative","scale":{"domain":[0,0.5],"nice":false}},
    "y":{"field":"mm","type":"quantitative","scale":{"domain":[-30,30],"nice":false}},
    "text":{"field":"t"}}}
 ]}
],
"resolve":{"scale":{"y":"independent"}}
}
